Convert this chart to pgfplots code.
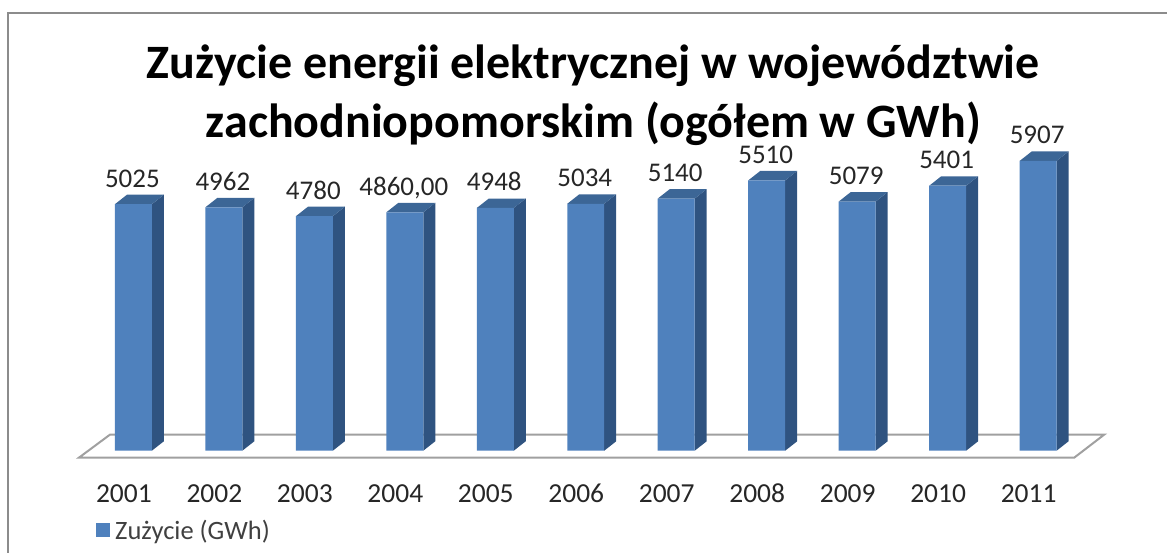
\documentclass[border=0pt]{standalone}
\usepackage{pgfplots}
\pgfplotsset{compat=1.18}
\usepackage{pgfplotstable}
\usepackage{fontspec}
\setmainfont{Carlito}

\definecolor{barfront}{HTML}{4F81BD}
\definecolor{barside}{HTML}{2F5380}
\definecolor{bartop}{HTML}{3C6696}
\definecolor{floorline}{HTML}{A0A0A0}
\definecolor{framegray}{HTML}{8C8C8C}

\pgfplotstableread{
x v label
0 5025 5025
1 4962 4962
2 4780 4780
3 4860 4860,00
4 4948 4948
5 5034 5034
6 5140 5140
7 5510 5510
8 5079 5079
9 5401 5401
10 5907 5907
}\usage

% side and top face of one bar: index, value
\newcommand{\barfaces}[2]{%
  \pgfmathsetmacro{\xa}{#1+0.204}%
  \pgfmathsetmacro{\xb}{#1+0.337}%
  \pgfmathsetmacro{\xc}{#1-0.204}%
  \pgfmathsetmacro{\xd}{#1-0.071}%
  \pgfmathsetmacro{\yb}{#2+193}%
  \addplot[fill=barside,draw=none,forget plot] coordinates {(\xa,0)(\xb,193)(\xb,\yb)(\xa,#2)} -- cycle;
  \addplot[fill=bartop,draw=none,forget plot] coordinates {(\xc,#2)(\xd,\yb)(\xb,\yb)(\xa,#2)} -- cycle;
}

\begin{document}
\begin{tikzpicture}
\begin{axis}[
  scale only axis,
  width=1168pt, height=553pt,
  xmin=-1.4743, xmax=11.4246,
  ymin=-2077, ymax=9185,
  clip=false,
  axis line style={draw=none},
  major tick length=0pt,
  ytick=\empty,
  xtick={0,...,10},
  xticklabels={2001,2002,2003,2004,2005,2006,2007,2008,2009,2010,2011},
  xticklabel style={anchor=base,yshift=50pt,xshift=-9.5pt,font=\fontsize{27.5}{32}\selectfont,text=black!85},
  legend style={draw=none,fill=none,at={(rel axis cs:0.0822,0.021)},anchor=south west,
    font=\fontsize{26.5}{30}\selectfont,text=black!75,inner sep=0pt},
  legend image code/.code={\fill[barfront] (0pt,-7pt) rectangle (14pt,7pt);\path (19pt,0pt);},
  legend style={nodes={inner sep=0pt}},
]
\draw[framegray,line width=2pt] (rel axis cs:0.00685,0) -- (rel axis cs:0.00685,0.9765) -- (rel axis cs:1,0.9765);

% floor
\addplot[draw=floorline,line width=2pt,fill=white,forget plot] coordinates {(-0.603,-143)(10.398,-143)(10.729,326)(-0.26,326)} -- cycle;

\barfaces{0}{5025}
\barfaces{1}{4962}
\barfaces{2}{4780}
\barfaces{3}{4860}
\barfaces{4}{4948}
\barfaces{5}{5034}
\barfaces{6}{5140}
\barfaces{7}{5510}
\barfaces{8}{5079}
\barfaces{9}{5401}
\barfaces{10}{5907}

\addplot[ybar,bar width=37pt,fill=barfront,draw=none,
  point meta=explicit symbolic,nodes near coords,
  every node near coord/.append style={anchor=base,yshift=17pt,xshift=-1pt,
    font=\fontsize{27}{30}\selectfont,text=black!85}]
  table[x=x,y=v,meta=label] {\usage};
\addlegendentry{Zużycie (GWh)}

\node[align=center,font=\bfseries\fontsize{48}{59}\selectfont,anchor=base] at (rel axis cs:0.5085,0.7515)
  {Zużycie energii elektrycznej w województwie\\zachodniopomorskim (ogółem w GWh)};
\end{axis}
\end{tikzpicture}
\end{document}
